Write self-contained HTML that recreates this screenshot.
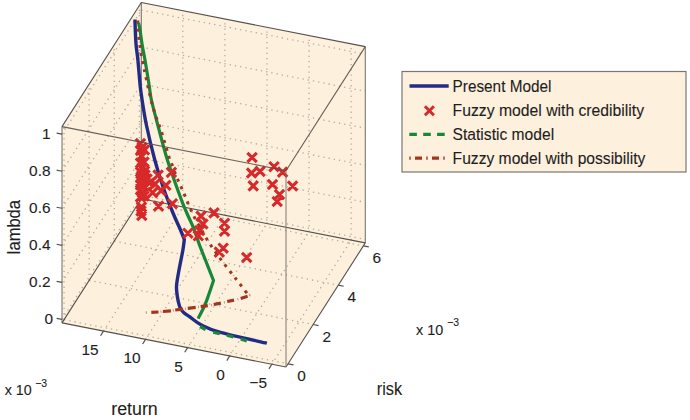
<!DOCTYPE html>
<html><head><meta charset="utf-8"><style>
html,body{margin:0;padding:0;background:#fff;width:690px;height:420px;overflow:hidden}
svg{display:block;font-family:"Liberation Sans",sans-serif}
text{fill:#1e1e1e;stroke:#1e1e1e;stroke-width:0.1px}
.t15{font-size:15.4px}
.t17{font-size:17.5px}
</style></head><body>
<svg width="690" height="420" viewBox="0 0 690 420">
<rect width="690" height="420" fill="#fff"/>
<polygon points="62,126.6 141.3,2.5 365.3,46.6 365.3,242.9 286,367 62,322.9" fill="#fdf0dc"/>
<path d="M103.5,331.07L182.8,206.97 M182.8,206.97L182.8,10.67 M145.59,339.36L224.89,215.26 M224.89,215.26L224.89,18.96 M187.68,347.64L266.98,223.54 M266.98,223.54L266.98,27.24 M229.77,355.93L309.07,231.83 M309.07,231.83L309.07,35.53 M271.86,364.22L351.16,240.12 M351.16,240.12L351.16,43.82 M64.05,319.7L288.05,363.8 M64.05,319.7L64.05,123.4 M89.16,280.39L313.16,324.49 M89.16,280.39L89.16,84.09 M114.28,241.09L338.28,285.19 M114.28,241.09L114.28,44.79 M139.39,201.79L363.39,245.89 M139.39,201.79L139.39,5.49 M62,319.4L141.3,195.3 M141.3,195.3L365.3,239.4 M62,282.36L141.3,158.26 M141.3,158.26L365.3,202.36 M62,245.32L141.3,121.22 M141.3,121.22L365.3,165.32 M62,208.28L141.3,84.18 M141.3,84.18L365.3,128.28 M62,171.24L141.3,47.14 M141.3,47.14L365.3,91.24 M62,134.2L141.3,10.1 M141.3,10.1L365.3,54.2" stroke="#b3aca1" stroke-width="1.3" stroke-dasharray="1.3 4" fill="none"/>
<path d="M62,126.6L62,322.9 M365.3,46.6L365.3,242.9 M141.3,2.5L141.3,198.8" stroke="#7b7770" stroke-width="1.1" fill="none"/>
<path d="M62,126.6L141.3,2.5 M141.3,2.5L365.3,46.6 M62,322.9L286,367 M286,367L365.3,242.9 M62,322.9L141.3,198.8 M141.3,198.8L365.3,242.9" stroke="#55514c" stroke-width="1.1" fill="none"/>
<path d="M135,19.5 C135.05,21.25 135.12,25.75 135.3,30 C135.48,34.25 135.67,40 136.1,45 C136.53,50 137.23,53.33 137.9,60 C138.57,66.67 139.4,78.33 140.1,85 C140.8,91.67 141.05,93.33 142.1,100 C143.15,106.67 144.28,115 146.4,125 C148.52,135 151.97,149.5 154.8,160 C157.63,170.5 160.37,179.17 163.4,188 C166.43,196.83 170.15,206 173,213 C175.85,220 178.62,225.58 180.5,230 C182.38,234.42 183.67,237.92 184.3,239.5  C184.07,241.25 183.78,244.92 182.9,250 C182.02,255.08 180.05,264.17 179,270 C177.95,275.83 176.93,281 176.6,285 C176.27,289 176.7,291.17 177,294 C177.3,296.83 177.87,299.67 178.4,302 C178.93,304.33 179.33,306.25 180.2,308 C181.07,309.75 181.97,311 183.6,312.5 C185.23,314 187.03,314.92 190,317 C192.97,319.08 196.33,322.43 201.4,325 C206.47,327.57 209.48,329.37 220.4,332.4 C231.32,335.43 259.15,341.4 266.9,343.2" stroke="#232c85" stroke-width="3.4" fill="none" stroke-linejoin="round"/>
<path d="M138.5,22.6 C138.75,23.83 139.38,26.27 140,30 C140.62,33.73 141.37,40 142.2,45 C143.03,50 143.85,53.33 145,60 C146.15,66.67 148.03,78.33 149.1,85 C150.17,91.67 149.95,93.33 151.4,100 C152.85,106.67 155.13,115 157.8,125 C160.47,135 163.58,147.83 167.4,160 C171.22,172.17 177.47,189.17 180.7,198 C183.93,206.83 184.58,207.83 186.8,213 C189.02,218.17 191.88,223.67 194,229 C196.12,234.33 197.6,239.83 199.5,245 C201.4,250.17 203.07,254.08 205.4,260 C207.73,265.92 212.15,277.08 213.5,280.5  C212.68,282.92 210.07,290.83 208.6,295 C207.13,299.17 206.45,301.57 204.7,305.5 C202.95,309.43 199.2,316.42 198.1,318.6" stroke="#178739" stroke-width="3.2" fill="none" stroke-linejoin="round"/>
<path d="M200.1,326.5L205.6,329.7 M213.2,332.2L219.7,333.8 M226.9,335.2L233.5,337 M240.7,339L246.8,340.9" stroke="#178739" stroke-width="3.2" fill="none"/>
<path d="M135.7,138.8L145.1,148.2M135.7,148.2L145.1,138.8 M137.3,142.8L146.7,152.2M137.3,152.2L146.7,142.8 M139.8,145.3L149.2,154.7M139.8,154.7L149.2,145.3 M135.8,145.8L145.2,155.2M135.8,155.2L145.2,145.8 M136.8,151.3L146.2,160.7M136.8,160.7L146.2,151.3 M139.3,157.3L148.7,166.7M139.3,166.7L148.7,157.3 M135.8,158.3L145.2,167.7M135.8,167.7L145.2,158.3 M137.3,163.3L146.7,172.7M137.3,172.7L146.7,163.3 M135.8,167.3L145.2,176.7M135.8,176.7L145.2,167.3 M139.8,166.3L149.2,175.7M139.8,175.7L149.2,166.3 M136.3,172.3L145.7,181.7M136.3,181.7L145.7,172.3 M136.3,176.3L145.7,185.7M136.3,185.7L145.7,176.3 M135.8,180.3L145.2,189.7M135.8,189.7L145.2,180.3 M138.8,181.3L148.2,190.7M138.8,190.7L148.2,181.3 M135.8,185.3L145.2,194.7M135.8,194.7L145.2,185.3 M137.8,188.3L147.2,197.7M137.8,197.7L147.2,188.3 M135.8,192.3L145.2,201.7M135.8,201.7L145.2,192.3 M136.8,202.3L146.2,211.7M136.8,211.7L146.2,202.3 M136.3,206.3L145.7,215.7M136.3,215.7L145.7,206.3 M137.1,210.8L146.5,220.2M137.1,220.2L146.5,210.8 M140.3,170.3L149.7,179.7M140.3,179.7L149.7,170.3 M142.3,174.3L151.7,183.7M142.3,183.7L151.7,174.3 M139.3,191.3L148.7,200.7M139.3,200.7L148.7,191.3 M166.7,167.7L176.1,177.1M166.7,177.1L176.1,167.7 M153.4,170.3L162.8,179.7M153.4,179.7L162.8,170.3 M161.2,180.6L170.6,190M161.2,190L170.6,180.6 M150.3,179.3L159.7,188.7M150.3,188.7L159.7,179.3 M147.9,187.9L157.3,197.3M147.9,197.3L157.3,187.9 M156.4,186.1L165.8,195.5M156.4,195.5L165.8,186.1 M144.8,178.3L154.2,187.7M144.8,187.7L154.2,178.3 M153.8,201.4L163.2,210.8M153.8,210.8L163.2,201.4 M167.7,199L177.1,208.4M167.7,208.4L177.1,199 M209.3,208.2L218.7,217.6M209.3,217.6L218.7,208.2 M196.3,211.4L205.7,220.8M196.3,220.8L205.7,211.4 M198.2,219.3L207.6,228.7M198.2,228.7L207.6,219.3 M219.8,218.6L229.2,228M219.8,228L229.2,218.6 M219.8,226.5L229.2,235.9M219.8,235.9L229.2,226.5 M183.2,228.5L192.6,237.9M183.2,237.9L192.6,228.5 M193.6,231.1L203,240.5M193.6,240.5L203,231.1 M194.9,225.8L204.3,235.2M194.9,235.2L204.3,225.8 M218.5,243.5L227.9,252.9M218.5,252.9L227.9,243.5 M214.6,247.4L224,256.8M214.6,256.8L224,247.4 M242,252.8L251.4,262.2M242,262.2L251.4,252.8 M247.4,152.8L256.8,162.2M247.4,162.2L256.8,152.8 M246.9,168.3L256.3,177.7M246.9,177.7L256.3,168.3 M255.4,166.7L264.8,176.1M255.4,176.1L264.8,166.7 M269.3,162L278.7,171.4M269.3,171.4L278.7,162 M277.9,167.4L287.3,176.8M277.9,176.8L287.3,167.4 M248.5,181.2L257.9,190.6M248.5,190.6L257.9,181.2 M267.8,179.8L277.2,189.2M267.8,189.2L277.2,179.8 M287.9,181.3L297.3,190.7M287.9,190.7L297.3,181.3 M274.8,189.8L284.2,199.2M274.8,199.2L284.2,189.8 M272.5,196.8L281.9,206.2M272.5,206.2L281.9,196.8" stroke="#d7282a" stroke-width="3.1" fill="none"/>
<path d="M137.5,20.5 C137.58,22.08 137.75,26.78 138,30 C138.25,33.22 138.63,36.88 139,39.8 C139.37,42.72 139.8,44.68 140.2,47.5 C140.6,50.32 140.83,53.67 141.4,56.7 C141.97,59.73 143,62.88 143.6,65.7 C144.2,68.52 144.42,70.87 145,73.6 C145.58,76.33 146.5,79.37 147.1,82.1 C147.7,84.83 148,87.37 148.6,90 C149.2,92.63 150.05,95.32 150.7,97.9 C151.35,100.48 151.78,102.88 152.5,105.5 C153.22,108.12 154.1,110.83 155,113.6 C155.9,116.37 156.95,119.48 157.9,122.1 C158.85,124.72 159.87,126.92 160.7,129.3 C161.53,131.68 162.18,134.02 162.9,136.4 C163.62,138.78 164.3,141.22 165,143.6 C165.7,145.98 166.38,148.32 167.1,150.7 C167.82,153.08 168.47,155.52 169.3,157.9 C170.13,160.28 170.77,161.57 172.1,165 C173.43,168.43 175.45,174.08 177.3,178.5 C179.15,182.92 181.33,187.17 183.2,191.5 C185.07,195.83 186.63,200.18 188.5,204.5 C190.37,208.82 192.32,213.32 194.4,217.4 C196.48,221.48 198.82,225.17 201,229 C203.18,232.83 205.22,236.77 207.5,240.4 C209.78,244.03 212.2,247.25 214.7,250.8 C217.2,254.35 219.12,257.22 222.5,261.7 C225.88,266.18 230.83,272.35 235,277.7 C239.17,283.05 245.42,291.12 247.5,293.8" stroke="#a2351f" stroke-width="3" fill="none" stroke-dasharray="3 5.2"/>
<path d="M151.3,312.4L158.5,312 M163,311.5L170.9,310.8 M175.2,310L183,309.2 M187.8,308.3L195.7,307.3 M200.7,306.7L207.8,305.7 M213.7,304.5L220.9,303.1 M227.2,301.5L234,300.1 M240.7,298.4L247.6,296.2" stroke="#a2351f" stroke-width="3.2" fill="none"/>
<path d="M145.8,312.5L146.8,312.5 M160.6,311.7L161.4,311.6 M172.9,310.5L173.7,310.4 M185.2,308.9L186,308.8 M198.1,307L198.9,306.9 M211,305.2L211.8,305 M224,302.5L224.8,302.3 M237.5,299.4L238.3,299.1 M249.3,295.5L250.3,294.9" stroke="#a2351f" stroke-width="2.6" fill="none" opacity="0.55"/>
<path d="M286,170.7L286,367" stroke="#7b7770" stroke-width="1.1" fill="none" opacity="0.9"/>
<path d="M62,126.6L286,170.7 M365.3,46.6L286,170.7" stroke="#55514c" stroke-width="1.1" fill="none" opacity="0.9"/>
<path d="M103.5,331.07L100.54,335.7 M145.59,339.36L142.63,343.99 M187.68,347.64L184.72,352.28 M229.77,355.93L226.81,360.56 M271.86,364.22L268.9,368.85 M288.05,363.8L293.44,364.86 M313.16,324.49L318.56,325.56 M338.28,285.19L343.67,286.25 M363.39,245.89L368.79,246.95 M62,319.4L56.6,318.34 M62,282.36L56.6,281.3 M62,245.32L56.6,244.26 M62,208.28L56.6,207.22 M62,171.24L56.6,170.18 M62,134.2L56.6,133.14" stroke="#55514c" stroke-width="1.2" fill="none"/>
<g class="t15">
<text x="98.6" y="355.07" text-anchor="end">15</text>
<text x="140.69" y="363.36" text-anchor="end">10</text>
<text x="182.78" y="371.64" text-anchor="end">5</text>
<text x="224.87" y="379.93" text-anchor="end">0</text>
<text x="266.96" y="388.22" text-anchor="end">−5</text>
<text x="301.55" y="381.1" text-anchor="middle">0</text>
<text x="326.66" y="341.79" text-anchor="middle">2</text>
<text x="351.78" y="302.49" text-anchor="middle">4</text>
<text x="376.89" y="263.19" text-anchor="middle">6</text>
<text x="53" y="323.8" text-anchor="end">0</text>
<text x="50.5" y="286.76" text-anchor="end">0.2</text>
<text x="50.5" y="249.72" text-anchor="end">0.4</text>
<text x="50.5" y="212.68" text-anchor="end">0.6</text>
<text x="50.5" y="175.64" text-anchor="end">0.8</text>
<text x="50.5" y="138.6" text-anchor="end">1</text>
<rect x="402" y="71.5" width="284" height="100.5" fill="#fdf0dc" stroke="#7a7773" stroke-width="1.2"/>
<path d="M409.5,86H448.7" stroke="#232c85" stroke-width="3.4"/>
<path d="M424.9,106.3L433.9,115.3M424.9,115.3L433.9,106.3" stroke="#d7282a" stroke-width="3"/>
<path d="M409.3,134.4H445" stroke="#178739" stroke-width="3.2" stroke-dasharray="7.6 6.3"/>
<path d="M409.3,158.1H445" stroke="#a2351f" stroke-width="3.2" stroke-dasharray="1.4 4.3 7 4.3" />
<text x="452.6" y="91.9" style="font-size:15.9px" textLength="98.8" lengthAdjust="spacingAndGlyphs">Present Model</text>
<text x="452.6" y="116.1" style="font-size:15.9px" textLength="191.5" lengthAdjust="spacingAndGlyphs">Fuzzy model with credibility</text>
<text x="452.6" y="139.7" style="font-size:15.9px" textLength="101.5" lengthAdjust="spacingAndGlyphs">Statistic model</text>
<text x="452.6" y="163.6" style="font-size:15.9px" textLength="192.8" lengthAdjust="spacingAndGlyphs">Fuzzy model with possibility</text>
<text x="4.7" y="395.2" textLength="27" lengthAdjust="spacingAndGlyphs">x 10</text>
<text x="416" y="334.6" textLength="27.2" lengthAdjust="spacingAndGlyphs">x 10</text>
</g>
<g style="font-size:10.4px">
<text x="35.3" y="387.1">−3</text>
<text x="447.2" y="325.7">−3</text>
</g>
<g class="t17">
<text x="20.1" y="227.1" text-anchor="middle" transform="rotate(-90 20.1 227.1)" textLength="54.2" lengthAdjust="spacingAndGlyphs">lambda</text>
<text x="111.2" y="414.8" textLength="46.6" lengthAdjust="spacingAndGlyphs">return</text>
<text x="376.8" y="394.6" textLength="25.3" lengthAdjust="spacingAndGlyphs">risk</text>
</g>
</svg>
</body></html>
